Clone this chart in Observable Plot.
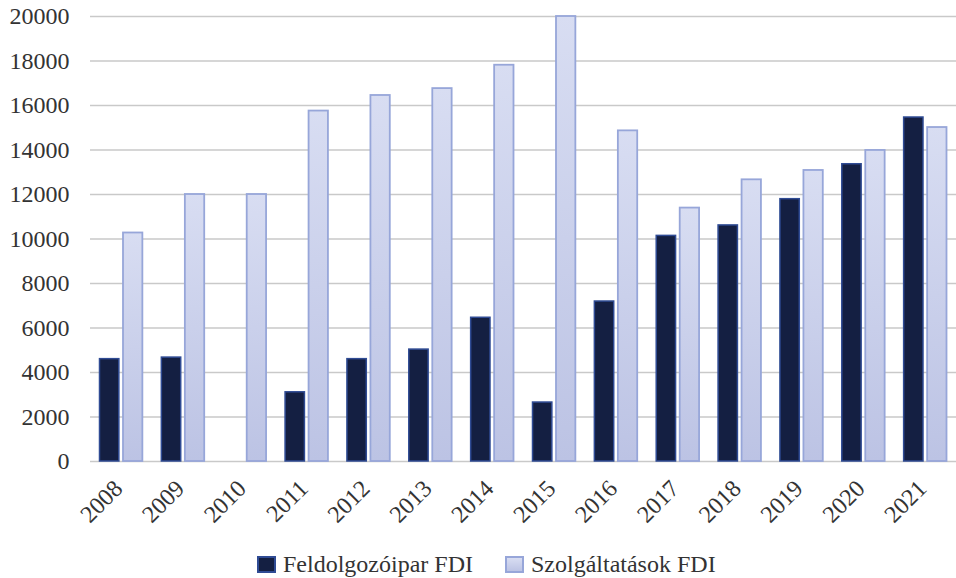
<!DOCTYPE html>
<html>
<head>
<meta charset="utf-8">
<script src="https://cdn.jsdelivr.net/npm/d3@7"></script>
<script src="https://cdn.jsdelivr.net/npm/@observablehq/plot@0.6"></script>
<style>
  html, body { margin: 0; padding: 0; background: #fff; }
  #wrap { position: relative; width: 956px; height: 578px; font-family: "Liberation Serif", "Times New Roman", serif; }
  #legend { position: absolute; left: 257px; top: 549px; display: flex; align-items: center; font-size: 24px; line-height: 30px; color: #333; white-space: nowrap; }
  .item { display: flex; align-items: center; margin-right: 32px; }
  .sw { width: 15px; height: 13px; margin-right: 7px; }
</style>
</head>
<body>
<div id="wrap">
  <div id="chart"></div>
  <div id="legend"></div>
</div>
<script>
const years = ["2008","2009","2010","2011","2012","2013","2014","2015","2016","2017","2018","2019","2020","2021"];
const manufacturing = [4600, 4670, null, 3110, 4600, 5030, 6460, 2650, 7190, 10140, 10610, 11790, 13360, 15460];
const services = [10270, 12000, 12000, 15750, 16450, 16760, 17810, 20000, 14860, 11390, 12660, 13080, 13980, 15010];
const seriesNames = ["Feldolgozóipar FDI", "Szolgáltatások FDI"];
const yTicks = [0, 2000, 4000, 6000, 8000, 10000, 12000, 14000, 16000, 18000, 20000];

const darkFill = "#141f42", darkStroke = "#2f4b94";
const lightStroke = "#97a6d9";

const manuData = years.map((y, i) => ({year: y, value: manufacturing[i]})).filter(d => d.value != null);
const servData = years.map((y, i) => ({year: y, value: services[i]}));

const gradientDefs = () => {
  const defs = d3.create("svg:defs");
  const g = defs.append("linearGradient").attr("id", "lightGrad")
    .attr("x1", 0).attr("y1", 0).attr("x2", 0).attr("y2", 1);
  g.append("stop").attr("offset", "0%").attr("stop-color", "#d8ddf2");
  g.append("stop").attr("offset", "100%").attr("stop-color", "#bcc3e4");
  return defs.node();
};

const chart = Plot.plot({
  width: 956,
  height: 530,
  marginLeft: 90,
  marginRight: 0,
  marginTop: 16,
  marginBottom: 69,
  style: {fontFamily: '"Liberation Serif", "Times New Roman", serif', fontSize: "24px", color: "#333", background: "#fff"},
  x: {domain: years, padding: 0, round: false, label: null},
  y: {domain: [0, 20000], label: null},
  marks: [
    gradientDefs,
    Plot.ruleY(yTicks, {stroke: "#c9c9c9", strokeWidth: 1.6}),
    Plot.barY(manuData, {x: "year", y: "value", fill: darkFill, stroke: darkStroke, strokeWidth: 1.5, insetLeft: 9.5, insetRight: 33}),
    Plot.barY(servData, {x: "year", y: "value", fill: "url(#lightGrad)", stroke: lightStroke, strokeWidth: 1.8, insetLeft: 33, insetRight: 9.5}),
    Plot.axisY(yTicks, {tickSize: 0, tickPadding: 21, tickFormat: d => String(d), fill: "#333", fontSize: 24}),
    Plot.axisX({tickSize: 0, tickRotate: -45, tickPadding: 24, dx: -3, dy: -1, fill: "#333", fontSize: 24})
  ]
});
document.getElementById("chart").appendChild(chart);

const legend = document.getElementById("legend");
[[seriesNames[0], darkFill, darkStroke], [seriesNames[1], "linear-gradient(#d8ddf2, #bcc3e4)", lightStroke]].forEach(([name, fill, stroke]) => {
  const item = document.createElement("div");
  item.className = "item";
  const sw = document.createElement("span");
  sw.className = "sw";
  sw.style.background = fill;
  sw.style.border = "2px solid " + stroke;
  const label = document.createElement("span");
  label.textContent = name;
  item.appendChild(sw);
  item.appendChild(label);
  legend.appendChild(item);
});
</script>
</body>
</html>
